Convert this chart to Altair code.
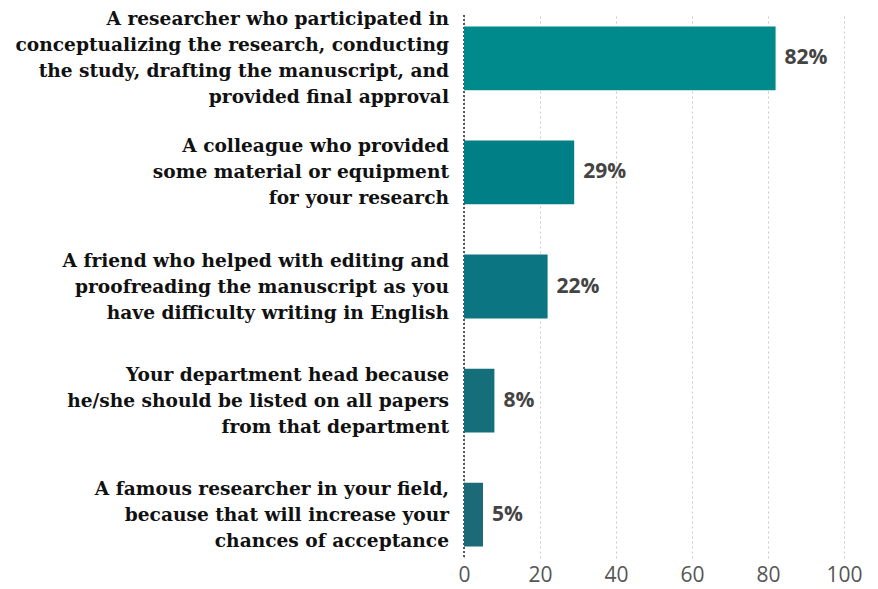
import altair as alt
import pandas as pd

categories = [
    "A researcher who participated in\nconceptualizing the research, conducting\nthe study, drafting the manuscript, and\nprovided final approval",
    "A colleague who provided\nsome material or equipment\nfor your research",
    "A friend who helped with editing and\nproofreading the manuscript as you\nhave difficulty writing in English",
    "Your department head because\nhe/she should be listed on all papers\nfrom that department",
    "A famous researcher in your field,\nbecause that will increase your\nchances of acceptance",
]
values = [82, 29, 22, 8, 5]
bar_colors = ["#008a8c", "#007f86", "#0b7682", "#156f7b", "#1c6977"]
x_ticks = [0, 20, 40, 60, 80, 100]

df = pd.DataFrame({
    "cat": categories,
    "value": values,
    "label": [f"{v}%" for v in values],
    "nlines": [c.count("\n") + 1 for c in categories],
})

y_enc = alt.Y("cat:N", sort=categories, axis=None,
              scale=alt.Scale(paddingInner=0.44, paddingOuter=0.1))

bars = alt.Chart(df).mark_bar().encode(
    x=alt.X("value:Q", scale=alt.Scale(domain=[0, 100], nice=False),
            axis=alt.Axis(values=x_ticks, title=None, domain=False, ticks=False,
                          grid=True, gridDash=[2, 3], gridColor="#c8c8c8",
                          labelFont="Open Sans", labelFontSize=21,
                          labelFlush=False,
                          labelColor="#555555", labelPadding=6)),
    y=y_enc,
    color=alt.Color("cat:N", sort=categories,
                    scale=alt.Scale(domain=categories, range=bar_colors),
                    legend=None),
)

zero_line = alt.Chart(df).mark_rule(strokeDash=[2, 2], color="#555555").encode(
    x=alt.datum(0)
)

value_text = alt.Chart(df).mark_text(
    align="left", baseline="middle", dx=9, font="Open Sans",
    fontWeight="bold", fontSize=21, color="#444444"
).encode(x="value:Q", y=y_enc, text="label:N")

LH = 26
cat_layers = []
for n in sorted(set(df["nlines"])):
    cat_layers.append(
        alt.Chart(df).transform_filter(alt.datum.nlines == n).mark_text(
            align="right", baseline="middle", font="DejaVu Serif",
            fontWeight="bold", fontSize=18.6, lineHeight=LH, color="#111111",
            lineBreak="\n", dy=-(n - 1) * LH / 2
        ).encode(x=alt.value(-15), y=y_enc, text="cat:N")
    )

chart = alt.layer(zero_line, bars, value_text, *cat_layers).properties(
    width=380, height=543,
    autosize=alt.AutoSizeParams(type="none"),
    padding={"left": 456, "top": 7, "right": 26, "bottom": 30},
).configure_view(stroke=None)

chart.save("out.html", embed_options={"renderer": "svg", "actions": False})
